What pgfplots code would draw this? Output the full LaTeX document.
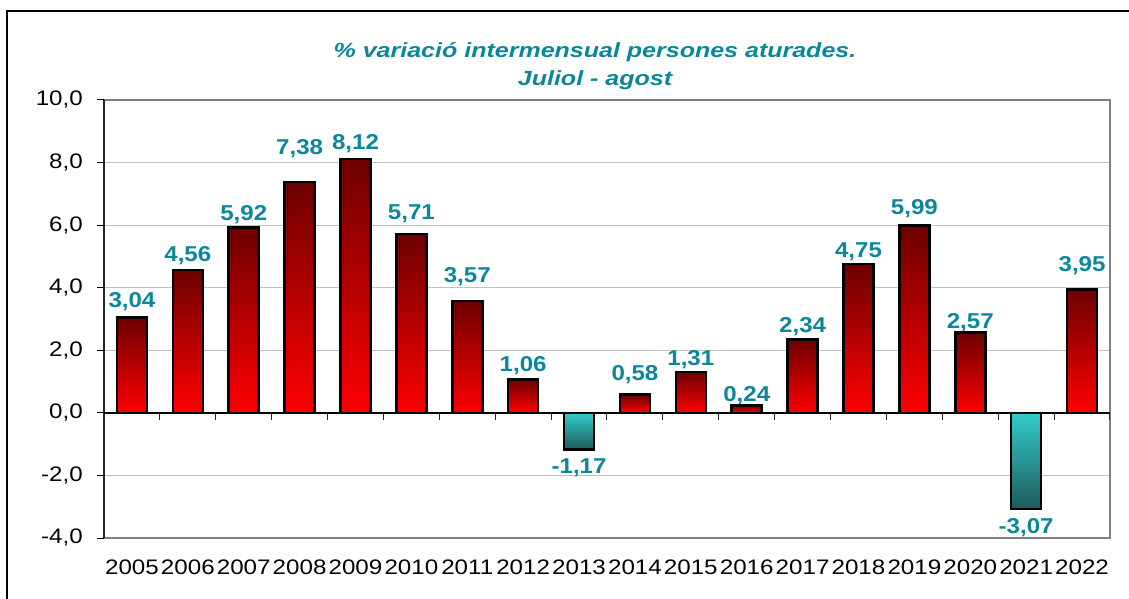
\documentclass[border=0pt]{standalone}
\usepackage{fontspec}
\setmainfont{Liberation Sans}[FakeStretch=1.12]
\newfontfamily\titlefont{Liberation Sans}[FakeStretch=1.22]
\newfontfamily\tickfont{Liberation Sans}[FakeStretch=1.15]
\usepackage{pgfplots}
\pgfplotsset{compat=1.18}
\definecolor{labteal}{RGB}{10,135,155}
\definecolor{framegray}{RGB}{128,128,128}
\definecolor{gridgray}{RGB}{192,192,192}
\definecolor{posTop}{RGB}{110,0,0}
\definecolor{posBot}{RGB}{255,0,0}
\definecolor{negTop}{RGB}{51,204,204}
\definecolor{negBot}{RGB}{30,90,90}

\pgfplotsset{
  posbar/.style={draw=black, line width=2.5bp, top color=posTop, bottom color=posBot,
    every node near coord/.append style={anchor=base, inner sep=0pt, yshift=#1bp, text=labteal, font=\bfseries\fontsize{21.5bp}{26bp}\selectfont}},
  negbar/.style={draw=black, line width=2.5bp, top color=negTop, bottom color=negBot,
    every node near coord/.append style={anchor=north, inner sep=0pt, yshift=-#1bp, text=labteal, font=\bfseries\fontsize{21.5bp}{26bp}\selectfont}},
}

\begin{document}
\begin{tikzpicture}
\useasboundingbox (0,0) rectangle (1129bp,599bp);
\begin{scope}
\clip (0,0) rectangle (1129bp,599bp);
\draw[black, line width=2bp] (7bp,-20bp) -- (7bp,588bp) -- (1160bp,588bp);
\end{scope}
\node[anchor=base, text=labteal, font=\titlefont\bfseries\itshape\fontsize{20.5bp}{24bp}\selectfont] at (595bp,541bp) {\% variació intermensual persones aturades.};
\node[anchor=base, text=labteal, font=\titlefont\bfseries\itshape\fontsize{20.5bp}{24bp}\selectfont] at (595bp,513bp) {Juliol - agost};
\begin{axis}[
  at={(104bp,61bp)}, anchor=south west,
  scale only axis, width=1006bp, height=438bp,
  xmin=-0.5, xmax=17.5, ymin=-4, ymax=10,
  enlargelimits=false, clip=false,
  xtick={0,1,...,17},
  xticklabels={2005,2006,2007,2008,2009,2010,2011,2012,2013,2014,2015,2016,2017,2018,2019,2020,2021,2022},
  ytick={-4,-2,...,10},
  ytick pos=left,
  axis line style={draw=none},
  x tick style={draw=none},
  y tick style={black, line width=1bp},
  tick align=outside, major tick length=7bp,
  ymajorgrids, grid style={gridgray, line width=1bp},
  /pgf/number format/assume math mode=true,
  yticklabel={\pgfmathprintnumber[fixed,fixed zerofill,precision=1,use comma]{\tick}},
  tick label style={font=\tickfont\fontsize{21bp}{25bp}\selectfont, text=black},
  yticklabel style={inner sep=0pt, xshift=-14bp},
  xticklabel style={inner sep=0pt, yshift=-15bp},
  ybar, bar width=30bp, bar shift=0pt,
  nodes near coords={\pgfmathprintnumber[fixed,fixed zerofill,precision=2,use comma,assume math mode=true]{\pgfplotspointmeta}},
]
\addplot[posbar=10] coordinates {(0,3.04)};
\addplot[posbar=9]  coordinates {(1,4.56)};
\addplot[posbar=7]  coordinates {(2,5.92)};
\addplot[posbar=27] coordinates {(3,7.38)};
\addplot[posbar=9]  coordinates {(4,8.12)};
\addplot[posbar=15] coordinates {(5,5.71)};
\addplot[posbar=19] coordinates {(6,3.57)};
\addplot[posbar=8]  coordinates {(7,1.06)};
\addplot[negbar=8]  coordinates {(8,-1.17)};
\addplot[posbar=14] coordinates {(9,0.58)};
\addplot[posbar=6]  coordinates {(10,1.31)};
\addplot[posbar=4]  coordinates {(11,0.24)};
\addplot[posbar=7]  coordinates {(12,2.34)};
\addplot[posbar=7]  coordinates {(13,4.75)};
\addplot[posbar=11] coordinates {(14,5.99)};
\addplot[posbar=4]  coordinates {(15,2.57)};
\addplot[negbar=8]  coordinates {(16,-3.07)};
\addplot[posbar=18] coordinates {(17,3.95)};
\draw[framegray, line width=2.5bp] (rel axis cs:0,1) -- (rel axis cs:1,1) -- (rel axis cs:1,0) -- (rel axis cs:0,0);
\draw[black!85, line width=1.5bp] (rel axis cs:0,0) -- (rel axis cs:0,1);
\draw[black, line width=1.5bp] (axis cs:-0.5,0) -- (axis cs:17.5,0);
\pgfplotsinvokeforeach{-0.5,0.5,1.5,2.5,3.5,4.5,5.5,6.5,7.5,8.5,9.5,10.5,11.5,12.5,13.5,14.5,15.5,16.5,17.5}{\draw[black!85, line width=1bp] (axis cs:#1,0) -- ([yshift=-7bp]axis cs:#1,0);}
\end{axis}
\end{tikzpicture}
\end{document}
